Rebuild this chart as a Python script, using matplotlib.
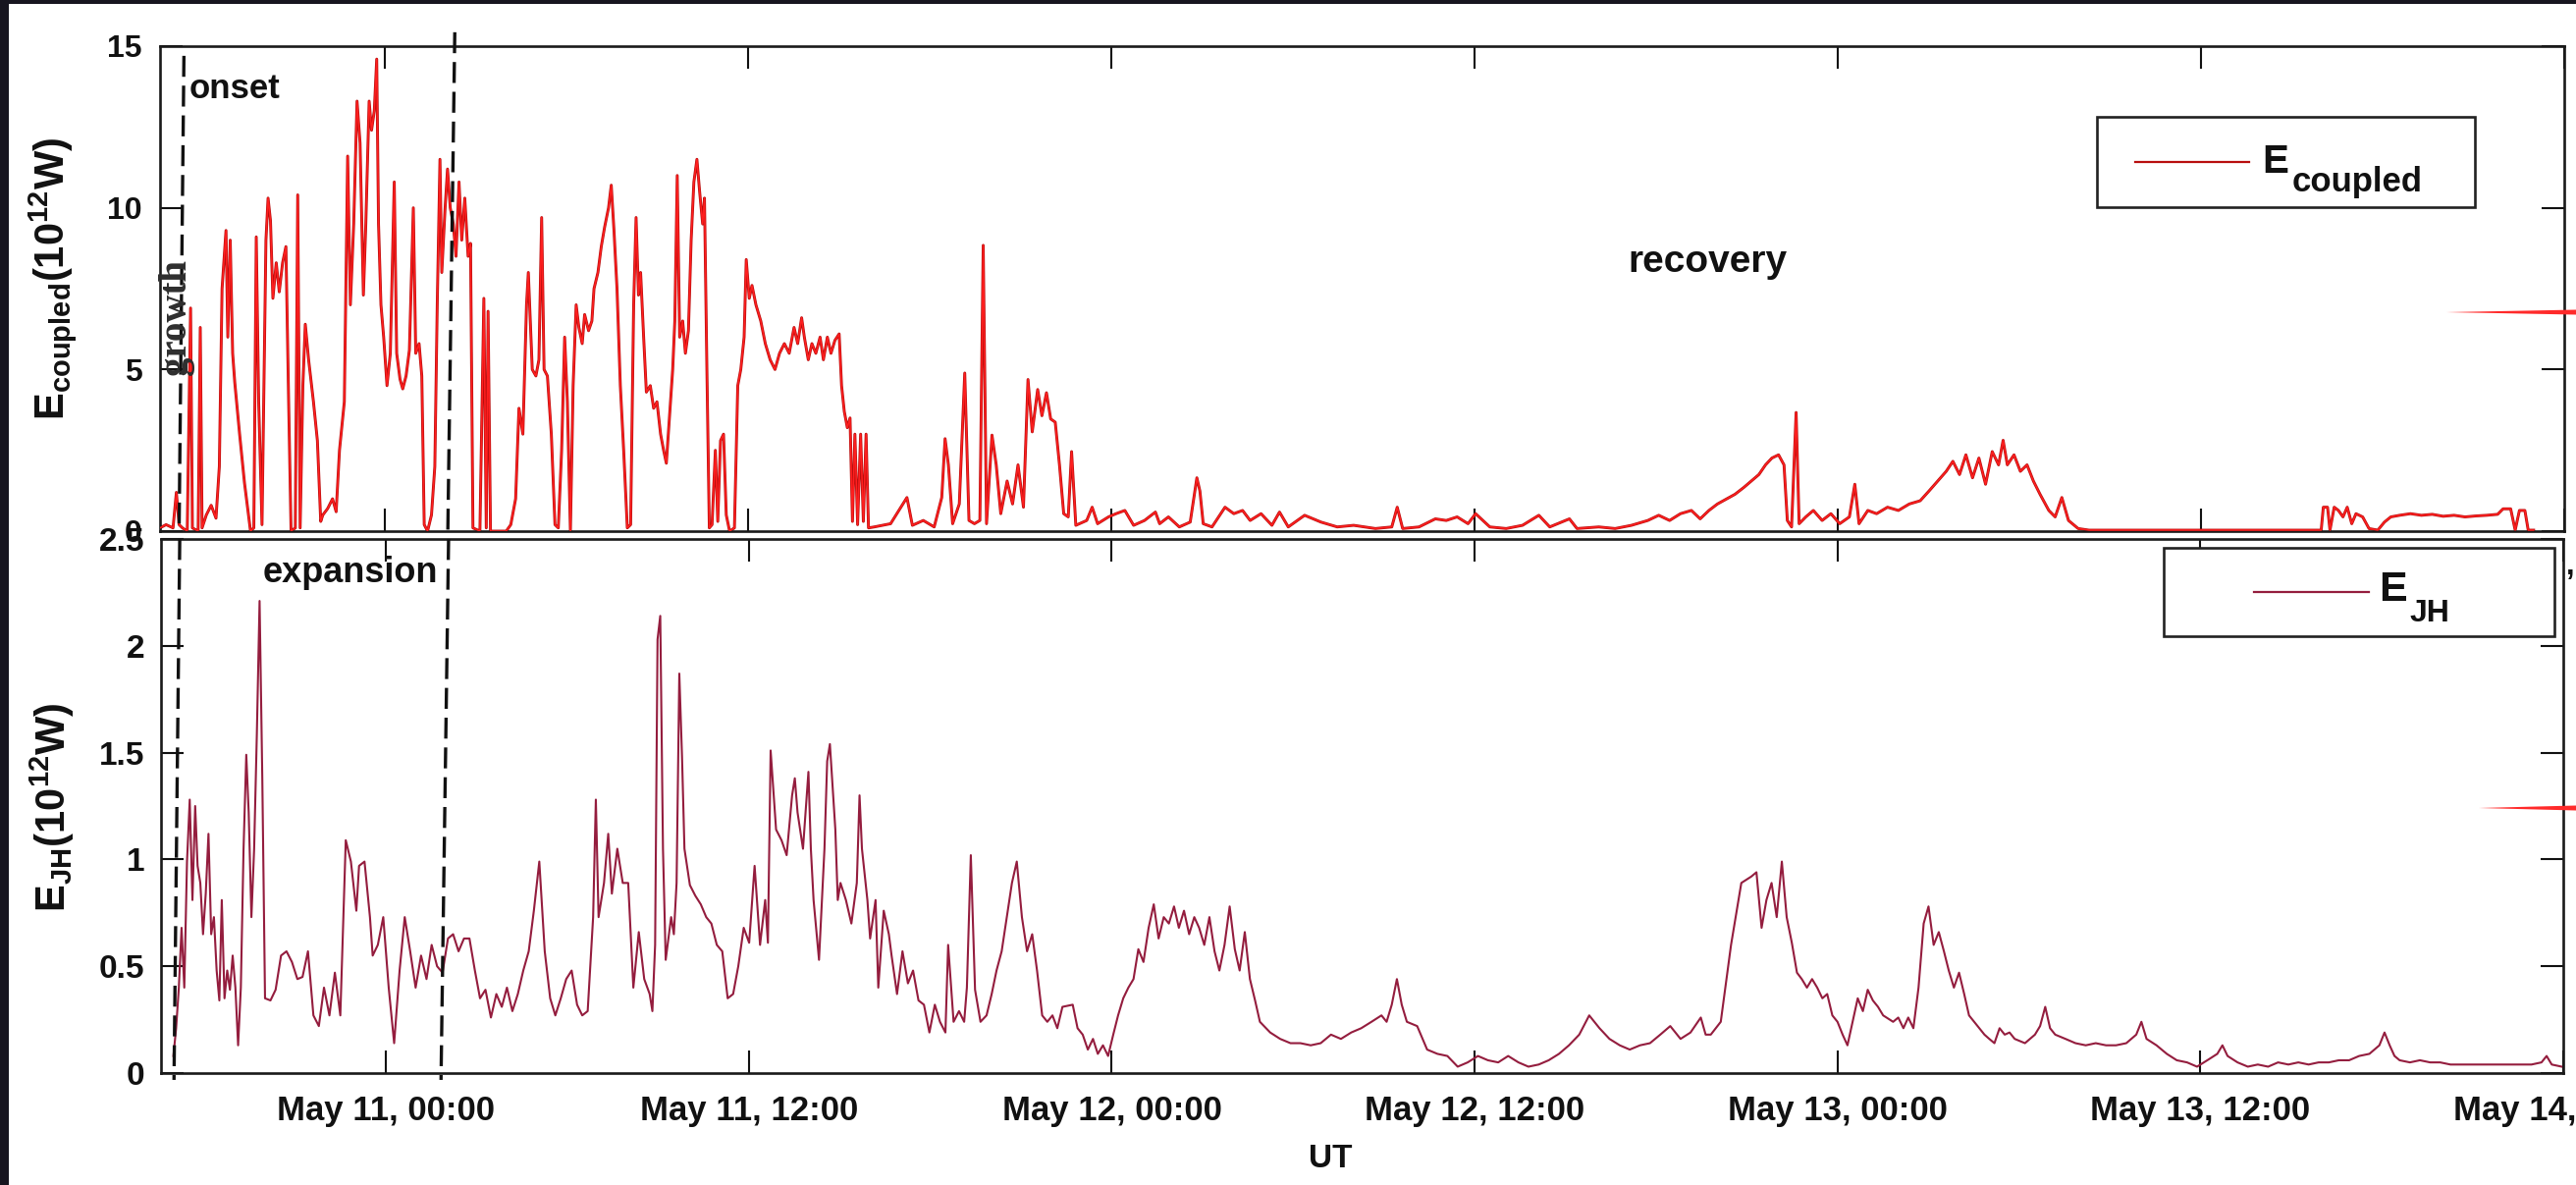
import numpy as np
import matplotlib
matplotlib.use("Agg")
import matplotlib.pyplot as plt
import matplotlib.dates as mdates
from matplotlib.ticker import FuncFormatter, FixedLocator
from matplotlib.patches import Rectangle, Polygon
from matplotlib.lines import Line2D

plt.rcParams['font.family'] = ['Liberation Sans', 'DejaVu Sans']
plt.rcParams['font.weight'] = 'bold'
plt.rcParams['mathtext.fontset'] = 'custom'
plt.rcParams['mathtext.rm'] = 'Liberation Sans:bold'
plt.rcParams['mathtext.bf'] = 'Liberation Sans:bold'
plt.rcParams['mathtext.it'] = 'Liberation Sans:bold'

# ---------------------------------------------------------------- data
# time in hours counted from 2024-05-10 00:00 UT
ecoupled_hours = [
    16.56, 16.76, 16.99, 17.10, 17.19, 17.30, 17.46, 17.57, 17.63, 17.82, 17.89, 17.95,
    18.09, 18.25, 18.41, 18.52, 18.61, 18.74, 18.80, 18.88, 18.96, 19.03, 19.19, 19.35,
    19.55, 19.66, 19.74, 19.82, 19.93, 20.06, 20.13, 20.21, 20.29, 20.40, 20.50, 20.61,
    20.72, 20.81, 20.89, 21.03, 21.11, 21.19, 21.28, 21.36, 21.47, 21.63, 21.76, 21.87,
    21.94, 22.10, 22.26, 22.38, 22.49, 22.65, 22.76, 22.85, 22.96, 23.07, 23.17, 23.28,
    23.36, 23.47, 23.55, 23.64, 23.72, 23.78, 23.86, 23.95, 24.06, 24.17, 24.30, 24.38,
    24.49, 24.58, 24.69, 24.80, 24.93, 25.01, 25.12, 25.21, 25.29, 25.40, 25.53, 25.64,
    25.72, 25.81, 25.87, 25.98, 26.06, 26.15, 26.25, 26.34, 26.44, 26.53, 26.63, 26.74,
    26.82, 26.90, 27.13, 27.26, 27.34, 27.40, 27.48, 28.00, 28.15, 28.31, 28.42, 28.55,
    28.67, 28.73, 28.86, 28.98, 29.08, 29.17, 29.25, 29.36, 29.49, 29.61, 29.72, 29.83,
    29.93, 30.02, 30.12, 30.21, 30.31, 30.40, 30.51, 30.59, 30.72, 30.83, 30.90, 31.03,
    31.14, 31.25, 31.38, 31.47, 31.56, 31.66, 31.77, 31.88, 32.00, 32.11, 32.21, 32.29,
    32.37, 32.44, 32.54, 32.63, 32.76, 32.87, 32.98, 33.10, 33.20, 33.29, 33.39, 33.50,
    33.57, 33.65, 33.73, 33.83, 33.92, 34.02, 34.11, 34.20, 34.30, 34.39, 34.49, 34.55,
    34.63, 34.71, 34.80, 34.91, 34.99, 35.08, 35.18, 35.27, 35.38, 35.54, 35.65, 35.75,
    35.86, 35.93, 36.03, 36.12, 36.25, 36.41, 36.56, 36.72, 36.88, 37.03, 37.19, 37.35,
    37.51, 37.63, 37.76, 37.85, 37.98, 38.10, 38.23, 38.37, 38.48, 38.61, 38.73, 38.86,
    39.00, 39.08, 39.17, 39.27, 39.36, 39.44, 39.52, 39.61, 39.71, 39.80, 39.89, 39.97,
    40.16, 40.70, 41.24, 41.42, 41.78, 42.14, 42.39, 42.50, 42.61, 42.75, 42.97, 43.15,
    43.29, 43.47, 43.65, 43.76, 43.87, 44.05, 44.19, 44.34, 44.55, 44.73, 44.91, 45.09,
    45.24, 45.38, 45.56, 45.70, 45.85, 45.99, 46.14, 46.28, 46.42, 46.57, 46.68, 46.82,
    47.18, 47.36, 47.54, 47.90, 48.15, 48.44, 48.73, 49.09, 49.45, 49.59, 49.88, 50.24,
    50.60, 50.82, 50.92, 51.03, 51.32, 51.75, 52.04, 52.33, 52.58, 52.94, 53.30, 53.55,
    53.84, 54.38, 54.92, 55.46, 56.00, 56.72, 57.26, 57.44, 57.62, 58.16, 58.70, 59.06,
    59.42, 59.78, 60.03, 60.50, 61.04, 61.58, 62.12, 62.48, 63.13, 63.38, 64.10, 64.64,
    65.18, 65.72, 66.08, 66.44, 66.80, 67.16, 67.45, 67.74, 68.02, 68.31, 68.60, 68.89,
    69.14, 69.39, 69.61, 69.82, 70.04, 70.22, 70.33, 70.47, 70.62, 70.72, 70.94, 71.19,
    71.48, 71.77, 72.06, 72.38, 72.56, 72.70, 72.99, 73.28, 73.64, 74.00, 74.36, 74.72,
    75.01, 75.30, 75.58, 75.80, 76.02, 76.23, 76.45, 76.66, 76.88, 77.10, 77.31, 77.46,
    77.60, 77.82, 78.03, 78.25, 78.46, 78.68, 78.97, 79.18, 79.40, 79.62, 79.94, 80.30,
    83.00, 87.68, 87.97, 88.04, 88.18, 88.26, 88.40, 88.54, 88.69, 88.83, 88.98, 89.12,
    89.34, 89.55, 89.84, 90.06, 90.27, 90.56, 90.92, 91.28, 91.64, 92.00, 92.36, 92.72,
    93.08, 93.44, 93.80, 93.98, 94.23, 94.38, 94.52, 94.70, 94.81, 94.99,
]
ecoupled = [
    0.1, 0.2, 0.1, 1.2, 0.2, 0.1, 0.0, 6.9, 0.1, 0.0, 6.3, 0.1,
    0.5, 0.8, 0.4, 2.0, 7.5, 9.3, 6.0, 9.0, 5.5, 4.6, 3.0, 1.5,
    0.0, 0.1, 9.1, 4.0, 0.2, 9.0, 10.3, 9.6, 7.2, 8.3, 7.4, 8.3,
    8.8, 4.0, 0.0, 0.1, 10.4, 0.1, 4.5, 6.4, 5.3, 4.0, 2.8, 0.3,
    0.5, 0.7, 1.0, 0.6, 2.5, 4.0, 11.6, 7.0, 9.5, 13.3, 12.0, 7.3,
    9.5, 13.3, 12.4, 13.0, 14.6, 9.5, 7.0, 6.0, 4.5, 5.5, 10.8, 5.5,
    4.7, 4.4, 4.8, 5.6, 10.0, 5.5, 5.8, 4.8, 0.2, 0.0, 0.5, 2.0,
    7.0, 11.5, 8.0, 10.0, 11.2, 10.0, 9.5, 8.5, 10.8, 9.0, 10.3, 8.5,
    8.9, 0.1, 0.0, 7.2, 0.1, 6.8, 0.0, 0.0, 0.2, 1.0, 3.8, 3.0,
    7.0, 8.0, 5.0, 4.8, 5.3, 9.7, 5.0, 4.8, 3.0, 0.2, 0.1, 2.5,
    6.0, 4.0, 0.0, 4.5, 7.0, 6.3, 5.8, 6.7, 6.2, 6.5, 7.5, 8.0,
    8.8, 9.4, 10.0, 10.7, 9.3, 7.5, 4.5, 2.5, 0.1, 0.2, 7.0, 9.7,
    7.3, 8.0, 6.0, 4.3, 4.5, 3.8, 4.0, 3.0, 2.5, 2.1, 3.5, 5.0,
    6.5, 11.0, 6.0, 6.5, 5.5, 6.2, 9.0, 10.8, 11.5, 10.5, 9.5, 10.3,
    5.0, 0.1, 0.2, 2.5, 0.3, 2.8, 3.0, 0.5, 0.0, 0.1, 4.5, 5.0,
    6.0, 8.4, 7.2, 7.6, 7.0, 6.5, 5.8, 5.3, 5.0, 5.5, 5.8, 5.5,
    6.3, 5.8, 6.6, 6.0, 5.3, 5.8, 5.5, 6.0, 5.3, 6.0, 5.5, 5.9,
    6.1, 4.5, 3.7, 3.2, 3.5, 0.3, 3.0, 0.2, 3.0, 0.3, 3.0, 0.1,
    0.13, 0.23, 1.04, 0.18, 0.33, 0.13, 1.04, 2.86, 2.05, 0.23, 0.84, 4.89,
    0.33, 0.23, 0.33, 8.84, 0.23, 2.97, 2.05, 0.54, 1.55, 0.84, 2.05, 0.74,
    4.69, 3.07, 4.38, 3.57, 4.28, 3.47, 3.37, 2.05, 0.54, 0.44, 2.46, 0.18,
    0.33, 0.74, 0.23, 0.44, 0.54, 0.64, 0.18, 0.33, 0.59, 0.23, 0.44, 0.13,
    0.28, 1.65, 1.24, 0.23, 0.13, 0.74, 0.54, 0.64, 0.33, 0.54, 0.18, 0.59,
    0.13, 0.49, 0.28, 0.13, 0.18, 0.08, 0.13, 0.74, 0.08, 0.13, 0.38, 0.33,
    0.44, 0.23, 0.54, 0.13, 0.08, 0.18, 0.49, 0.13, 0.38, 0.08, 0.13, 0.08,
    0.18, 0.33, 0.49, 0.33, 0.54, 0.64, 0.38, 0.64, 0.84, 0.99, 1.14, 1.35,
    1.55, 1.75, 2.05, 2.26, 2.36, 2.05, 0.33, 0.13, 3.67, 0.23, 0.44, 0.64,
    0.33, 0.54, 0.23, 0.44, 1.45, 0.23, 0.64, 0.54, 0.74, 0.64, 0.84, 0.94,
    1.24, 1.55, 1.85, 2.16, 1.75, 2.36, 1.65, 2.26, 1.45, 2.46, 2.05, 2.81,
    2.05, 2.36, 1.85, 2.05, 1.55, 1.14, 0.64, 0.44, 1.04, 0.33, 0.08, 0.03,
    0.03, 0.03, 0.03, 0.74, 0.74, 0.03, 0.74, 0.64, 0.44, 0.74, 0.23, 0.54,
    0.44, 0.08, 0.03, 0.28, 0.44, 0.49, 0.54, 0.49, 0.52, 0.46, 0.49, 0.44,
    0.47, 0.49, 0.52, 0.69, 0.69, 0.03, 0.64, 0.64, 0.03, 0.03,
]

ejh_hours = [
    16.97, 17.06, 17.15, 17.24, 17.33, 17.42, 17.51, 17.60, 17.69, 17.77, 17.86, 17.95,
    18.04, 18.13, 18.22, 18.31, 18.40, 18.49, 18.57, 18.66, 18.75, 18.84, 18.93, 19.02,
    19.11, 19.20, 19.29, 19.38, 19.46, 19.55, 19.64, 19.73, 19.82, 19.91, 20.00, 20.18,
    20.35, 20.53, 20.71, 20.89, 21.07, 21.24, 21.42, 21.60, 21.78, 21.95, 22.13, 22.31,
    22.49, 22.67, 22.84, 23.02, 23.11, 23.29, 23.47, 23.56, 23.73, 23.91, 24.09, 24.27,
    24.45, 24.62, 24.80, 24.98, 25.16, 25.34, 25.51, 25.69, 25.87, 26.05, 26.22, 26.40,
    26.58, 26.76, 26.94, 27.11, 27.29, 27.47, 27.65, 27.83, 28.00, 28.18, 28.36, 28.54,
    28.72, 28.89, 29.07, 29.25, 29.43, 29.60, 29.78, 29.96, 30.14, 30.32, 30.49, 30.67,
    30.85, 30.94, 31.03, 31.21, 31.35, 31.47, 31.65, 31.83, 32.01, 32.18, 32.36, 32.54,
    32.72, 32.81, 32.90, 32.98, 33.07, 33.16, 33.25, 33.43, 33.52, 33.61, 33.70, 33.79,
    33.87, 34.05, 34.23, 34.41, 34.59, 34.76, 34.94, 35.12, 35.30, 35.48, 35.65, 35.83,
    36.01, 36.19, 36.37, 36.54, 36.63, 36.72, 36.90, 37.08, 37.25, 37.43, 37.52, 37.61,
    37.79, 37.97, 38.05, 38.14, 38.32, 38.50, 38.59, 38.68, 38.86, 38.94, 39.03, 39.21,
    39.39, 39.57, 39.66, 39.74, 39.92, 40.01, 40.19, 40.28, 40.46, 40.63, 40.72, 40.90,
    41.08, 41.26, 41.43, 41.61, 41.79, 41.97, 42.15, 42.32, 42.50, 42.59, 42.77, 42.95,
    43.12, 43.21, 43.34, 43.48, 43.66,
    43.86, 44.03, 44.19, 44.36, 44.53, 44.70, 44.86, 45.03, 45.20, 45.37, 45.53, 45.70,
    45.87, 46.04, 46.20, 46.37, 46.71, 46.87, 47.04, 47.21, 47.38, 47.54, 47.71, 47.88,
    48.05, 48.21, 48.38, 48.55, 48.72, 48.88, 49.05, 49.22, 49.39, 49.55, 49.72, 49.89,
    50.06, 50.22, 50.39, 50.56, 50.73, 50.89, 51.06, 51.23, 51.40, 51.56, 51.73, 51.90,
    52.07, 52.23, 52.40, 52.57, 52.74, 52.90, 53.24, 53.57, 53.91, 54.24, 54.58, 54.91,
    55.25, 55.58, 55.92, 56.25, 56.59, 56.92, 57.09, 57.26, 57.43, 57.59, 57.76, 58.10,
    58.43, 58.77, 59.10, 59.44, 59.77, 60.11, 60.44, 60.78, 61.11, 61.45, 61.78, 62.12,
    62.45, 62.79, 63.12, 63.46, 63.79, 64.13, 64.46, 64.80, 65.13, 65.47, 65.80, 66.14,
    66.47, 66.81, 67.14, 67.48, 67.64, 67.81, 68.14, 68.48, 68.82, 69.15, 69.32, 69.49,
    69.65, 69.82, 69.99, 70.16, 70.32, 70.49, 70.66, 70.82, 70.99, 71.16, 71.33, 71.50,
    71.66, 71.83, 72.00, 72.17, 72.33, 72.50, 72.67, 72.84, 73.00, 73.17, 73.34, 73.51,
    73.84, 74.01, 74.18, 74.34, 74.51, 74.68, 74.85, 75.01, 75.18, 75.35, 75.52, 75.68,
    75.85, 76.02, 76.19, 76.35, 76.52, 76.69, 76.86, 77.02, 77.19, 77.36, 77.53, 77.69,
    77.86, 78.20, 78.53, 78.70, 78.87, 79.03, 79.20, 79.54, 79.87, 80.21, 80.54, 80.88,
    81.21, 81.55, 81.88, 82.05, 82.22, 82.55, 82.89, 83.22, 83.56, 83.89, 84.23, 84.56,
    84.73, 84.90, 85.23, 85.57, 85.90, 86.24, 86.57, 86.91, 87.24, 87.58, 87.91, 88.25,
    88.58, 88.92, 89.25, 89.59, 89.92, 90.09, 90.26, 90.42, 90.59, 90.93, 91.26, 91.60,
    91.93, 92.27, 92.60, 92.94, 93.27, 93.61, 93.94, 94.28, 94.61, 94.95, 95.28, 95.45,
    95.62, 95.95,
]
ejh = [
    0.08, 0.21, 0.40, 0.68, 0.40, 0.99, 1.28, 0.81, 1.25, 0.97, 0.89, 0.65,
    0.84, 1.12, 0.65, 0.73, 0.48, 0.34, 0.81, 0.35, 0.48, 0.39, 0.55, 0.40,
    0.13, 0.40, 1.05, 1.49, 1.22, 0.73, 1.05, 1.59, 2.21, 1.38, 0.35, 0.34,
    0.39, 0.55, 0.57, 0.52, 0.44, 0.45, 0.57, 0.27, 0.22, 0.40, 0.27, 0.47,
    0.27, 1.09, 0.99, 0.76, 0.97, 0.99, 0.73, 0.55, 0.60, 0.73, 0.40, 0.14,
    0.48, 0.73, 0.57, 0.40, 0.55, 0.44, 0.60, 0.50, 0.47, 0.63, 0.65, 0.57,
    0.63, 0.63, 0.48, 0.35, 0.39, 0.26, 0.37, 0.31, 0.40, 0.29, 0.37, 0.48,
    0.57, 0.76, 0.99, 0.57, 0.35, 0.27, 0.35, 0.44, 0.48, 0.32, 0.27, 0.29,
    0.73, 1.28, 0.73, 0.89, 1.12, 0.84, 1.05, 0.89, 0.89, 0.40, 0.66, 0.44,
    0.37, 0.29, 0.60, 2.03, 2.14, 1.05, 0.53, 0.73, 0.65, 0.89, 1.87, 1.48,
    1.05, 0.88, 0.83, 0.79, 0.73, 0.70, 0.60, 0.57, 0.35, 0.37, 0.50, 0.68,
    0.61, 0.97, 0.60, 0.81, 0.61, 1.51, 1.14, 1.09, 1.02, 1.30, 1.38, 1.22,
    1.05, 1.41, 1.05, 0.81, 0.53, 1.05, 1.46, 1.54, 1.14, 0.81, 0.89, 0.81,
    0.70, 0.89, 1.30, 1.05, 0.81, 0.63, 0.81, 0.40, 0.76, 0.65, 0.55, 0.37,
    0.57, 0.42, 0.48, 0.34, 0.32, 0.19, 0.32, 0.24, 0.19, 0.60, 0.24, 0.29,
    0.24, 0.40, 1.02, 0.39, 0.24,
    0.27, 0.37, 0.48, 0.57, 0.73, 0.89, 0.99, 0.73, 0.57, 0.65, 0.48, 0.27,
    0.24, 0.27, 0.21, 0.31, 0.32, 0.21, 0.18, 0.11, 0.16, 0.09, 0.13, 0.08,
    0.18, 0.27, 0.35, 0.40, 0.44, 0.58, 0.52, 0.68, 0.79, 0.63, 0.73, 0.70,
    0.78, 0.68, 0.76, 0.65, 0.73, 0.68, 0.60, 0.73, 0.57, 0.48, 0.60, 0.78,
    0.58, 0.48, 0.66, 0.44, 0.34, 0.24, 0.19, 0.16, 0.14, 0.14, 0.13, 0.14,
    0.18, 0.16, 0.19, 0.21, 0.24, 0.27, 0.24, 0.32, 0.44, 0.32, 0.24, 0.22,
    0.11, 0.09, 0.08, 0.03, 0.05, 0.08, 0.06, 0.05, 0.08, 0.05, 0.03, 0.04,
    0.06, 0.09, 0.13, 0.18, 0.27, 0.21, 0.16, 0.13, 0.11, 0.13, 0.14, 0.18,
    0.22, 0.16, 0.19, 0.26, 0.18, 0.18, 0.24, 0.60, 0.89, 0.92, 0.94, 0.68,
    0.81, 0.89, 0.73, 0.99, 0.73, 0.61, 0.47, 0.44, 0.40, 0.44, 0.40, 0.35,
    0.37, 0.27, 0.24, 0.18, 0.13, 0.24, 0.35, 0.29, 0.39, 0.34, 0.31, 0.27,
    0.24, 0.26, 0.21, 0.26, 0.21, 0.40, 0.70, 0.78, 0.60, 0.66, 0.57, 0.48,
    0.40, 0.47, 0.37, 0.27, 0.24, 0.21, 0.18, 0.16, 0.14, 0.21, 0.18, 0.19,
    0.16, 0.14, 0.18, 0.22, 0.31, 0.21, 0.18, 0.16, 0.14, 0.13, 0.14, 0.13,
    0.13, 0.14, 0.18, 0.24, 0.16, 0.13, 0.09, 0.06, 0.05, 0.03, 0.06, 0.09,
    0.13, 0.08, 0.05, 0.03, 0.04, 0.03, 0.05, 0.04, 0.05, 0.04, 0.05, 0.05,
    0.06, 0.06, 0.08, 0.09, 0.13, 0.19, 0.13, 0.08, 0.06, 0.05, 0.06, 0.05,
    0.05, 0.04, 0.04, 0.04, 0.04, 0.04, 0.04, 0.04, 0.04, 0.04, 0.05, 0.08,
    0.04, 0.03,
]

# storm phase boundaries (hours), given at the top and bottom of each drawn segment
onset_top_panel = (17.35, 17.19)
onset_bottom_panel = (17.18, 16.99)
expansion_end_top_panel = (26.30, 26.07)
expansion_end_bottom_panel = (26.07, 25.82)

x_start_hours, x_end_hours = 16.56, 96.0
ecoupled_ticks = [0, 5, 10, 15]
ejh_ticks = [0, 0.5, 1, 1.5, 2, 2.5]

EPOCH = np.datetime64('2024-05-10T00:00:00')


def to_time(hours):
    secs = np.round(np.asarray(hours, dtype=float) * 3600).astype('int64')
    return EPOCH + secs.astype('timedelta64[s]')


# ---------------------------------------------------------------- figure
W, H = 2624, 1207
fig = plt.figure(figsize=(W / 100, H / 100), dpi=100, facecolor='white')


def fbox(l, t, r, b):
    return [l / W, 1 - b / H, (r - l) / W, (b - t) / H]


ax1 = fig.add_axes(fbox(163, 47, 2612, 541))
ax2 = fig.add_axes(fbox(164, 549, 2611, 1093))

TXT = '#111111'
RED_DARK = '#b80e0e'
RED = '#ff1f1f'
JH_COLOR = '#941d3e'

# upper panel: coupling energy
t1 = to_time(ecoupled_hours)
ax1.plot(t1, ecoupled, color=RED_DARK, lw=2.1, zorder=2)
ax1.plot(t1, ecoupled, color=RED, lw=1.1, zorder=3)

# lower panel: Joule heating
t2 = to_time(ejh_hours)
ax2.plot(t2, ejh, color=JH_COLOR, lw=1.5, zorder=2)

xlim = to_time([x_start_hours, x_end_hours])
for ax in (ax1, ax2):
    ax.set_xlim(xlim[0], xlim[1])
    ax.xaxis.set_major_locator(mdates.HourLocator(byhour=[0, 12]))
    ax.xaxis.set_major_formatter(mdates.DateFormatter('%b %d, %H:%M'))
    ax.yaxis.set_major_formatter(FuncFormatter(lambda v, p: f'{v:g}'))
    ax.tick_params(which='major', direction='in', length=16.5, width=1.5,
                   top=True, right=True, colors=TXT)
    ax.tick_params(which='minor', length=0)
    for s in ax.spines.values():
        s.set_linewidth(1.9)
        s.set_color('#1a1a1a')

ax1.set_ylim(0, 15)
ax1.yaxis.set_major_locator(FixedLocator(ecoupled_ticks))
ax1.tick_params(axis='x', labelbottom=False)
ax1.tick_params(axis='y', labelsize=23, pad=13)

ax2.set_ylim(0, 2.5)
ax2.yaxis.set_major_locator(FixedLocator(ejh_ticks))
ax2.tick_params(axis='y', labelsize=24, pad=12)
ax2.tick_params(axis='x', labelsize=25, pad=16)

# axis labels
ax1.set_ylabel(r'$\mathbf{E}_{\mathbf{coupled}}\mathbf{(10}^{\mathbf{12}}\mathbf{W)}$',
               fontsize=30, color=TXT)
ax1.yaxis.set_label_coords(-0.034, 0.52)
ax2.set_ylabel(r'$\mathbf{E}_{\mathbf{JH}}\mathbf{(10}^{\mathbf{12}}\mathbf{W)}$',
               fontsize=30, color=TXT)
ax2.yaxis.set_label_coords(-0.035, 0.498)
ax2.set_xlabel('UT', fontsize=24, fontweight='bold', color=TXT)
ax2.xaxis.label.set_va('center')
ax2.xaxis.set_label_coords(0.487, -0.16)

# storm phase boundaries
dash = dict(color='#111111', lw=2.4, linestyle=(0, (6.4, 2.7)), zorder=6, clip_on=False)
for (ta, tb) in (onset_top_panel,):
    ax1.plot(to_time([ta, tb]), [14.7, 0], **dash)
for (ta, tb) in (expansion_end_top_panel,):
    ax1.plot(to_time([ta, tb]), [15.43, 0], **dash)
for (ta, tb) in (onset_bottom_panel, expansion_end_bottom_panel):
    ax2.plot(to_time([ta, tb]), [2.5, -0.032], **dash)

# phase annotations
ax1.text(to_time(17.51), 13.39, 'onset', fontsize=25, fontweight='bold',
         color=TXT, ha='left', va='baseline', zorder=7)
ax1.text(to_time(17.09), 6.62, 'growth', fontsize=28, fontweight='bold',
         family=['Liberation Serif', 'DejaVu Serif'], color='#2e2e2e',
         rotation=90, ha='center', va='center', zorder=7)
ax1.text(to_time(67.69), 8.02, 'recovery', fontsize=28, fontweight='bold',
         color=TXT, ha='center', va='baseline', zorder=7)
ax2.text(to_time(19.91), 2.298, 'expansion', fontsize=26, fontweight='bold',
         color=TXT, ha='left', va='baseline', zorder=5)


# keys drawn as boxed line samples with subscripted names
def draw_key(ax, box, line_x, line_y, color, main, main_xy, main_size,
             sub, sub_xy, sub_size):
    x0, y0, x1, y1 = box
    ax.add_patch(Rectangle((x0, y0), x1 - x0, y1 - y0, transform=ax.transAxes,
                           facecolor='white', edgecolor='#222222', lw=1.9,
                           zorder=8, clip_on=False))
    ax.add_line(Line2D(line_x, [line_y, line_y], transform=ax.transAxes,
                       color=color, lw=1.6, zorder=9, clip_on=False))
    ax.text(main_xy[0], main_xy[1], main, transform=ax.transAxes,
            fontsize=main_size, fontweight='bold', color=TXT,
            ha='left', va='baseline', zorder=9)
    ax.text(sub_xy[0], sub_xy[1], sub, transform=ax.transAxes,
            fontsize=sub_size, fontweight='bold', color=TXT,
            ha='left', va='baseline', zorder=9)


draw_key(ax1, (0.8057, 0.668, 0.9629, 0.8543), (0.8216, 0.8690), 0.7611,
         RED_DARK, 'E', (0.8743, 0.7389), 29, 'coupled', (0.8869, 0.7004), 25)
draw_key(ax2, (0.8337, 0.818, 0.9963, 0.9835), (0.8713, 0.9191), 0.9007,
         JH_COLOR, 'E', (0.9232, 0.8842), 31, 'JH', (0.9359, 0.8456), 23)

# dark frame at the left and top of the canvas
fig.patches.append(Rectangle((0, 0), 9 / W, 1, transform=fig.transFigure,
                             facecolor='#17151f', edgecolor='none', zorder=20))
fig.patches.append(Rectangle((0, 1 - 4 / H), 1, 4 / H, transform=fig.transFigure,
                             facecolor='#17151f', edgecolor='none', zorder=20))

# thin red strokes running off the right edge
for (xl, yc) in ((2492, 318), (2525, 823)):
    fig.patches.append(Polygon([(xl / W, 1 - yc / H),
                                (1.0, 1 - (yc - 2.5) / H),
                                (1.0, 1 - (yc + 2.5) / H)],
                               closed=True, transform=fig.transFigure,
                               facecolor='#ff2a2a', edgecolor='none', zorder=20))
fig.text(2614 / W, 1 - 585 / H, ',', fontsize=22, fontweight='bold', color=TXT)

fig.savefig('out.png', dpi=100, facecolor='white')
